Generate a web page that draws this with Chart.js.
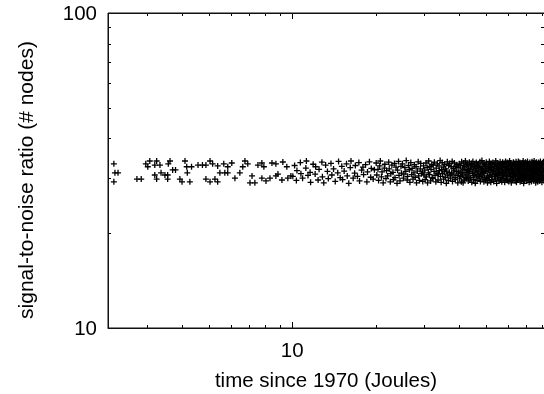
<!DOCTYPE html>
<html>
<head>
<meta charset="utf-8">
<script src="https://cdn.jsdelivr.net/npm/chart.js@4/dist/chart.umd.min.js"></script>
<style>
  html, body { margin: 0; padding: 0; background: #fff; }
  #chart { display: block; }
</style>
</head>
<body>
<canvas id="chart" width="544" height="394"></canvas>
<script>
// axis limits and ticks
const xRange = [2.162, 81.1];
const yRange = [10, 100];
const xMinorTicks = [3, 4, 5, 6, 7, 8, 9, 20, 30, 40, 50, 60, 70, 80];
const xMajorTicks = [10];
const yMinorTicks = [20, 30, 40, 50, 60, 70, 80, 90];
const yMajorTicks = [10, 100];
const xTitle = "time since 1970 (Joules)";
const yTitle = "signal-to-noise ratio (# nodes)";

// [time, ratio]
const earlyRun = [
  [2.27,33.2],[2.29,31.1],[2.35,31.1],[2.27,29.1],[2.75,29.7],[2.85,29.7],[2.96,33.2],[3.06,33.9],
  [3.01,32.5],[3.19,32.9],[3.33,32.9],[3.24,33.9],[3.19,30.6],[3.24,29.7],[3.36,31.1],[3.47,30.6],
  [3.55,30.6],[3.57,33.2],[3.62,33.9],[3.70,31.75],[3.79,31.75],[3.55,29.7],[3.93,29.7],[4.00,29.1],
  [4.10,33.9],[4.16,32.5],[4.33,32.5],[4.18,31.1],[4.27,29.1],[4.57,32.9],[4.74,32.9],[4.88,32.9],
  [5.05,33.9],[5.16,33.2],[5.38,32.7],[4.88,29.7],[5.05,29.1],[5.26,29.7],[5.38,29.1],[5.48,31.1],
  [5.71,31.1],[5.85,31.1],[5.66,33.2],[5.85,32.5],[6.05,33.4],[6.21,29.9],[6.47,31.1],[6.63,32.5],
  [6.75,33.9],[6.91,33.2],[7.04,28.9],[7.16,30.4],[7.33,28.9],[7.52,32.9],[7.77,33.4],[7.90,32.5],
  [7.77,29.9],[8.04,29.3],[8.31,29.9],[8.45,33.4],[8.73,33.2],[8.73,30.4],[8.88,30.8],[9.18,29.5],
  [9.25,33.65],[9.56,32.5],[9.64,29.9],[9.89,30.4]
];

const midRun = [
  [10.05,30.3],[10.2,32.8],[10.35,29.4],[10.4,31.6],[10.7,33.5],[10.75,30.9],[10.9,29.9],[11.2,32.2],
  [11.25,33.9],[11.4,30.5],[11.6,31.2],[11.65,29.0],[11.9,33.1],[12.1,30.8],[12.15,32.5],[12.4,29.5],
  [12.5,31.9],[12.8,33.6],[12.85,30.2],[13.0,28.9],[13.2,32.9],[13.4,31.4],[13.5,29.8],[13.8,33.3],
  [13.9,30.6],[14.1,32.0],[14.3,29.2],[14.6,31.1],[14.7,33.8],[14.9,30.0],[15.1,32.6],[15.2,29.6],
  [15.4,31.5],[15.7,33.2],[15.8,30.4],[16.0,28.8],[16.2,32.3],[16.3,33.9],[16.6,29.9],[16.8,31.0],
  [16.9,32.8],[17.2,30.3],[17.4,33.5],[17.5,29.3],[17.8,31.7],[18.0,32.4],[18.1,30.7],[18.4,33.0],
  [18.6,29.1],[18.7,31.3],[19.0,33.7],[19.2,30.1],[19.3,32.1],[19.6,29.7],[19.8,31.8],
  [20.1,33.4],[20.2,30.6],[20.4,31.9],[20.5,29.4],[20.7,32.7],[20.8,33.9],[21.0,30.2],[21.1,31.3],
  [21.3,28.9],[21.5,32.2],[21.6,33.1],[21.8,29.8],[21.9,31.6],[22.1,30.4],[22.3,33.6],[22.4,32.0],
  [22.6,29.1],[22.7,30.9],[22.9,32.9],[23.1,31.2],[23.2,29.6],[23.4,33.3],[23.5,30.0],[23.7,32.4],
  [23.9,28.8],[24.0,31.7],[24.2,33.8],[24.3,30.5],[24.5,29.3],[24.7,32.6],[24.8,31.0],[25.0,33.2],
  [25.2,29.9],[25.3,30.8],[25.5,32.3],[25.7,31.4],[25.8,34.0],[26.0,29.5],[26.1,30.3],[26.3,32.8],
  [26.5,31.8],[26.6,29.0],[26.8,33.5],[27.0,30.7],[27.1,32.1],[27.3,29.7],[27.5,31.1],[27.6,33.0],
  [27.8,30.1],[28.0,32.5],[28.1,28.9],[28.3,31.5],[28.5,33.7],[28.6,30.4],[28.8,29.4],[29.0,32.0],
  [29.1,33.3],[29.3,30.9],[29.5,31.3],[29.6,29.2],[29.8,32.7],[29.9,30.6],
  [30.1,31.7],[30.2,29.6],[30.4,33.4],[30.5,30.2],[30.7,32.3],[30.8,28.9],[31.0,31.1],[31.1,33.9],
  [31.3,30.7],[31.4,32.6],[31.6,29.3],[31.7,31.9],[31.9,33.0],[32.0,30.0],[32.2,29.8],[32.3,32.9],
  [32.5,31.4],[32.6,33.6],[32.8,30.5],[33.0,29.1],[33.1,32.2],[33.3,31.0],[33.4,33.2],[33.6,29.5],
  [33.7,30.8],[33.9,32.7],[34.0,31.6],[34.2,34.0],[34.3,30.3],[34.5,29.0],[34.6,31.8],[34.8,33.5],
  [34.9,30.9],[35.1,32.4],[35.2,29.7],[35.4,31.3],[35.5,33.1],[35.7,30.1],[35.8,32.0],[36.0,28.8],
  [36.1,31.5],[36.3,33.7],[36.4,30.6],[36.6,29.4],[36.7,32.8],[36.9,31.2],[37.0,33.3],[37.2,30.4],
  [37.3,29.9],[37.5,32.5],[37.6,31.0],[37.8,33.8],[37.9,29.2],[38.1,30.8],[38.2,32.1],[38.4,31.7],
  [38.5,33.4],[38.7,30.0],[38.8,29.6],[39.0,32.6],[39.1,31.4],[39.3,33.0],[39.4,30.5],[39.6,28.9],
  [39.7,32.3],[39.9,31.1]
];

const lateRun = [
  [40.1,33.2],[40.2,29.9],[40.4,31.5],[40.5,32.8],[40.6,30.3],[40.8,29.1],[40.9,33.7],[41.0,31.0],
  [41.2,32.2],[41.3,30.6],[41.4,28.9],[41.6,33.4],[41.7,31.8],[41.8,29.5],[42.0,32.5],[42.1,30.1],
  [42.2,33.9],[42.4,31.2],[42.5,29.8],[42.6,32.9],[42.8,30.8],[42.9,31.6],[43.0,33.1],[43.2,29.3],
  [43.3,32.0],[43.4,30.4],[43.6,33.6],[43.7,31.4],[43.8,29.7],[44.0,32.7],[44.1,30.0],[44.2,31.9],
  [44.4,33.3],[44.5,29.0],[44.6,32.4],[44.8,30.9],[44.9,33.8],[45.0,31.1],[45.2,29.6],[45.3,32.6],
  [45.4,30.5],[45.6,33.0],[45.7,31.7],[45.8,28.8],[46.0,32.1],[46.1,30.2],[46.2,33.5],[46.4,31.3],
  [46.5,29.4],[46.6,32.8],[46.8,30.7],[46.9,31.5],[47.0,33.2],[47.2,29.9],[47.3,32.3],[47.4,30.3],
  [47.6,33.7],[47.7,31.0],[47.8,29.2],[48.0,32.5],[48.1,30.6],[48.2,31.8],[48.4,34.0],[48.5,29.7],
  [48.6,32.0],[48.8,30.9],[48.9,33.4],[49.0,31.2],[49.2,29.1],[49.3,32.7],[49.4,30.1],[49.6,33.1],
  [49.7,31.6],[49.8,29.5],[49.9,32.2],
  [50.1,31.4],[50.2,33.6],[50.3,29.8],[50.5,32.1],[50.6,30.4],[50.7,28.9],[50.9,33.0],[51.0,31.7],
  [51.1,30.0],[51.3,32.6],[51.4,29.4],[51.5,33.8],[51.7,31.1],[51.8,30.6],[51.9,32.3],[52.1,29.0],
  [52.2,33.3],[52.3,31.9],[52.5,30.2],[52.6,32.9],[52.7,29.6],[52.9,31.3],[53.0,33.5],[53.1,30.8],
  [53.3,32.0],[53.4,29.2],[53.5,31.6],[53.7,33.1],[53.8,30.3],[53.9,32.5],[54.1,29.7],[54.2,31.0],
  [54.3,33.9],[54.5,30.7],[54.6,32.2],[54.7,28.8],[54.9,31.5],[55.0,33.4],[55.1,29.9],[55.3,32.8],
  [55.4,30.5],[55.5,31.8],[55.7,33.0],[55.8,29.3],[55.9,32.4],[56.1,30.9],[56.2,31.2],[56.3,33.7],
  [56.5,29.5],[56.6,32.7],[56.7,30.1],[56.9,31.9],[57.0,33.2],[57.1,29.1],[57.3,32.0],[57.4,30.6],
  [57.5,33.6],[57.7,31.4],[57.8,29.8],[57.9,32.9],[58.1,30.4],[58.2,31.1],[58.3,33.3],[58.5,29.0],
  [58.6,32.3],[58.7,30.8],[58.9,33.8],[59.0,31.7],[59.1,29.6],[59.3,32.6],[59.4,30.2],[59.5,31.3],
  [59.7,33.5],[59.8,29.4],[59.9,32.1],
  [60.1,30.5],[60.2,33.2],[60.3,31.6],[60.5,29.2],[60.6,32.8],[60.7,30.9],[60.9,33.9],[61.0,31.0],
  [61.1,29.7],[61.3,32.4],[61.4,30.3],[61.5,33.4],[61.7,31.8],[61.8,28.9],[61.9,32.0],[62.1,30.7],
  [62.2,33.0],[62.3,31.2],[62.5,29.5],[62.6,32.6],[62.7,30.1],[62.9,33.6],[63.0,31.5],[63.1,29.9],
  [63.3,32.2],[63.4,30.6],[63.5,33.3],[63.7,31.1],[63.8,29.3],[63.9,32.9],[64.1,30.4],[64.2,31.9],
  [64.3,33.7],[64.5,29.0],[64.6,32.5],[64.7,30.8],[64.9,31.4],[65.0,33.1],[65.1,29.6],[65.3,32.3],
  [65.4,30.2],[65.5,33.8],[65.7,31.7],[65.8,29.8],[65.9,32.7],[66.1,30.9],[66.2,31.3],[66.3,33.5],
  [66.5,29.1],[66.6,32.1],[66.7,30.5],[66.9,33.0],[67.0,31.6],[67.1,29.4],[67.3,32.8],[67.4,30.0],
  [67.5,31.2],[67.7,33.4],[67.8,29.7],[67.9,32.4],[68.1,30.7],[68.2,33.9],[68.3,31.0],[68.5,28.8],
  [68.6,32.6],[68.7,30.3],[68.9,31.8],[69.0,33.2],[69.1,29.5],[69.3,32.0],[69.4,30.6],[69.5,33.6],
  [69.7,31.5],[69.8,29.9],[69.9,32.9],
  [70.1,31.1],[70.2,33.3],[70.3,29.3],[70.5,32.5],[70.6,30.4],[70.7,33.8],[70.9,31.7],[71.0,29.8],
  [71.1,32.2],[71.3,30.1],[71.4,33.1],[71.5,31.3],[71.7,29.0],[71.8,32.7],[71.9,30.8],[72.1,33.5],
  [72.2,31.9],[72.3,29.6],[72.5,32.1],[72.6,30.5],[72.7,33.0],[72.9,31.4],[73.0,29.2],[73.1,32.8],
  [73.3,30.2],[73.4,33.7],[73.5,31.0],[73.7,29.9],[73.8,32.4],[73.9,30.7],[74.1,33.4],[74.2,31.6],
  [74.3,29.4],[74.5,32.6],[74.6,30.3],[74.7,33.9],[74.9,31.2],[75.0,29.7],[75.1,32.0],[75.3,30.9],
  [75.4,33.2],[75.5,31.8],[75.7,28.9],[75.8,32.9],[75.9,30.0],[76.1,33.6],[76.2,31.5],[76.3,29.5],
  [76.5,32.3],[76.6,30.6],[76.7,33.1],[76.9,31.1],[77.0,29.1],[77.1,32.7],[77.3,30.4],[77.4,33.5],
  [77.5,31.9],[77.7,29.8],[77.8,32.2],[77.9,30.8],[78.1,33.3],[78.2,31.3],[78.3,29.3],[78.5,32.5],
  [78.6,30.1],[78.7,33.8],[78.9,31.7],[79.0,29.6],[79.1,32.8],[79.3,30.5],[79.4,33.0],[79.5,31.0],
  [79.7,29.0],[79.8,32.4],[79.9,30.7],[80.1,33.4],[80.2,31.4],[80.3,29.9],[80.5,32.1],[80.6,30.2],
  [80.7,33.7],[80.9,31.6],[81.0,29.4]
];

const FONT = '20.5px "Liberation Sans", Arial, sans-serif';
const Y_TITLE_FONT = '21px "Liberation Sans", Arial, sans-serif';

const frameAndTicks = {
  id: "frameAndTicks",
  afterDatasetsDraw(chart) {
    const { ctx, chartArea: a, scales } = chart;
    const xs = scales.x, ys = scales.y;
    ctx.save();
    ctx.strokeStyle = "#000";
    ctx.lineWidth = 1;

    const line = (x1, y1, x2, y2) => {
      ctx.beginPath();
      ctx.moveTo(x1, y1);
      ctx.lineTo(x2, y2);
      ctx.stroke();
    };

    // x ticks, bottom and top, pointing inwards
    xMinorTicks.concat(xMajorTicks).forEach((v) => {
      const len = xMajorTicks.includes(v) ? 6 : 3;
      const px = Math.round(xs.getPixelForValue(v)) + 0.5;
      line(px, a.bottom, px, a.bottom - len);
      line(px, a.top, px, a.top + len);
    });
    // y ticks, left and right (right frame edge falls just off the canvas)
    yMinorTicks.concat(yMajorTicks).forEach((v) => {
      const len = yMajorTicks.includes(v) ? 6 : 3;
      const py = Math.round(ys.getPixelForValue(v)) + 0.5;
      line(a.left, py, a.left + len, py);
      line(a.right, py, a.right - len, py);
    });

    // frame: left, bottom, top
    ctx.lineWidth = 1.5;
    ctx.strokeStyle = "#111";
    line(a.left + 0.25, a.top, a.left + 0.25, a.bottom + 0.75);
    line(a.left, a.bottom + 0.25, a.right + 2, a.bottom + 0.25);
    line(a.left, a.top + 0.25, a.right + 2, a.top + 0.25);

    // labels
    ctx.fillStyle = "#000";
    ctx.font = FONT;
    ctx.textAlign = "right";
    ctx.textBaseline = "middle";
    yMajorTicks.forEach((v) => {
      ctx.fillText(String(v), a.left - 11, ys.getPixelForValue(v) + 1);
    });
    ctx.textAlign = "center";
    ctx.textBaseline = "top";
    xMajorTicks.forEach((v) => {
      ctx.fillText(String(v), xs.getPixelForValue(v), a.bottom + 13);
    });
    ctx.textBaseline = "middle";
    ctx.fillText(xTitle, (a.left + a.right) / 2, 381);

    ctx.save();
    ctx.font = Y_TITLE_FONT;
    ctx.translate(27, 180);
    ctx.rotate(-Math.PI / 2);
    ctx.fillText(yTitle, 0, 0);
    ctx.restore();

    ctx.restore();
  },
};

new Chart(document.getElementById("chart"), {
  type: "scatter",
  data: {
    datasets: [
      {
        data: earlyRun.concat(midRun, lateRun).map(([x, y]) => ({ x, y })),
        pointStyle: "cross",
        pointRadius: 3,
        pointBorderWidth: 1.3,
        borderColor: "#000",
        backgroundColor: "#000",
      },
    ],
  },
  options: {
    responsive: false,
    animation: false,
    devicePixelRatio: 1,
    layout: { autoPadding: false, padding: { left: 108, top: 13, right: 0, bottom: 66 } },
    plugins: { legend: { display: false }, tooltip: { enabled: false } },
    scales: {
      x: { type: "logarithmic", min: xRange[0], max: xRange[1], bounds: "data", display: false },
      y: { type: "logarithmic", min: yRange[0], max: yRange[1], bounds: "data", display: false },
    },
  },
  plugins: [frameAndTicks],
});
</script>
</body>
</html>
